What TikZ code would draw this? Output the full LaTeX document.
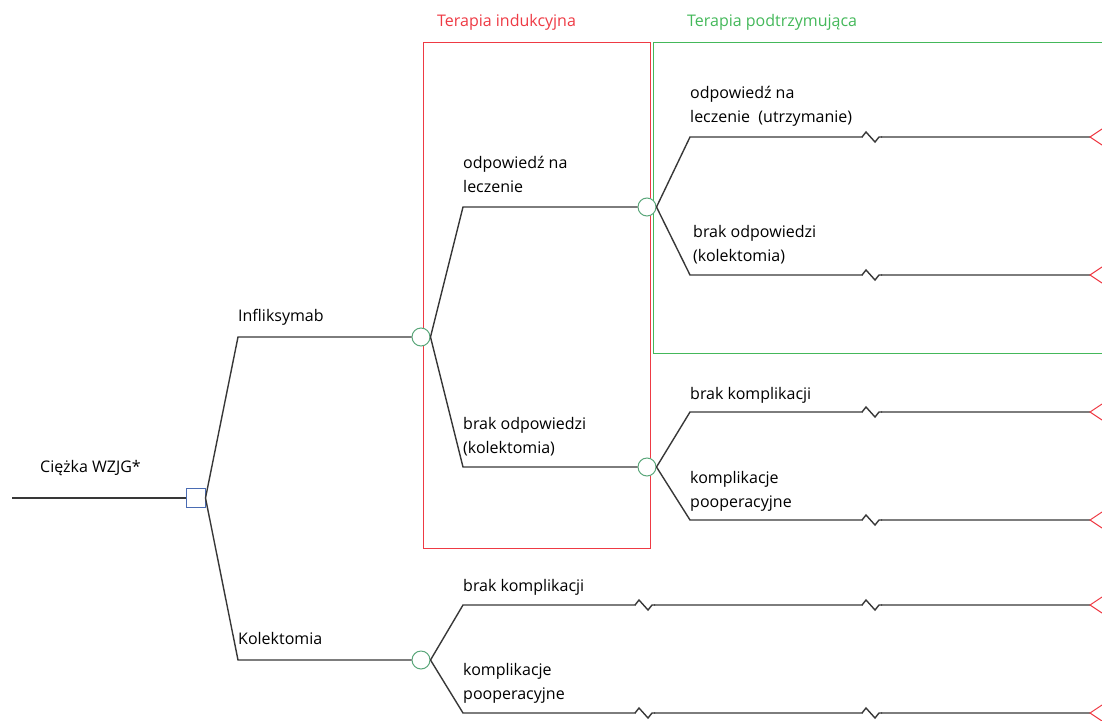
\documentclass[tikz,border=0pt]{standalone}
\usepackage{fontspec}
\setmainfont{Open Sans}
\usetikzlibrary{positioning}

\definecolor{linegray}{HTML}{383838}
\definecolor{decblue}{HTML}{4A6CB3}
\definecolor{chgreen}{HTML}{5AA77A}
\definecolor{indred}{HTML}{EE3A44}
\definecolor{podgreen}{HTML}{44B85A}

\begin{document}
\begin{tikzpicture}[x=1pt, y=-1pt,
    branch/.style={draw=linegray, line width=1.4pt},
    decision/.style={rectangle, draw=decblue, fill=white, line width=1pt, minimum size=19pt, inner sep=0pt},
    chance/.style={circle, draw=chgreen, fill=white, line width=1pt, minimum size=18pt, inner sep=0pt},
    lbl/.style={anchor=base west, align=left, inner sep=0pt, font=\fontsize{16}{24}\selectfont},
    term/.style={draw=indred, line width=1pt},
    pics/zig/.style={code={
        \draw[white, line width=4pt] (-9,0) -- (9,0);
        \draw[branch] (-10,0) -- (-6,-5) -- (3,5) -- (7,0) -- (10,0);}}]
  \useasboundingbox (0,0) rectangle (1102,720);

  % The phases
  \draw[indred, line width=1pt] (423,42) rectangle (650,548);
  \draw[podgreen, line width=1pt] (1103,42) -- (653,42) -- (653,353) -- (1103,353);
  \node[lbl, text=indred] (indlbl) at (437,26) {Terapia indukcyjna};
  \node[lbl, text=podgreen] (podlbl) at (687,27) {Terapia podtrzymująca};

  % Decision
  \coordinate (root) at (12,498);
  \node[decision] (dec) at (195.5,498) {};
  \draw[branch] (root) -- (dec);
  \node[lbl] (rootlbl) at (40,472) {Ciężka WZJG*};

  % Infliksymab
  \coordinate (inf) at (238,337);
  \node[chance] (cinf) at (421,337) {};
  \draw[branch] (dec.east) -- (inf) -- (cinf);
  \node[lbl] (inflbl) at (238,321) {Infliksymab};

  % Kolektomia
  \coordinate (kol) at (238,660);
  \node[chance] (ckol) at (421,660) {};
  \draw[branch] (dec.east) -- (kol) -- (ckol);
  \node[lbl] (kollbl) at (238,644) {Kolektomia};

  % Induction: response
  \coordinate (odp) at (463,207);
  \node[chance] (codp) at (647,207) {};
  \draw[branch] (cinf.east) -- (odp) -- (codp);
  \node[lbl] (odplbl) at (463,192) {odpowiedź na\\leczenie};

  % Induction: no response
  \coordinate (brak) at (463,467);
  \node[chance] (cbrak) at (647,467) {};
  \draw[branch] (cinf.east) -- (brak) -- (cbrak);
  \node[lbl] (braklbl) at (463,453) {brak odpowiedzi\\(kolektomia)};

  % Maintenance
  \coordinate (utr) at (690,137);
  \coordinate (utrend) at (1090,137);
  \draw[branch] (codp.east) -- (utr) -- (utrend);
  \pic at (872,137) {zig};
  \node[lbl] (utrlbl) at (690,122) {odpowiedź na\\leczenie\ \ (utrzymanie)};

  \coordinate (ukol) at (690,275);
  \coordinate (ukolend) at (1090,275);
  \draw[branch] (codp.east) -- (ukol) -- (ukolend);
  \pic at (872,275) {zig};
  \node[lbl] (ukollbl) at (693,261) {brak odpowiedzi\\(kolektomia)};

  % Colectomy after induction
  \coordinate (bk1) at (690,412);
  \coordinate (bk1end) at (1090,412);
  \draw[branch] (cbrak.east) -- (bk1) -- (bk1end);
  \pic at (872,412) {zig};
  \node[lbl] (bk1lbl) at (690,399) {brak komplikacji};

  \coordinate (kp1) at (690,520);
  \coordinate (kp1end) at (1090,520);
  \draw[branch] (cbrak.east) -- (kp1) -- (kp1end);
  \pic at (872,520) {zig};
  \node[lbl] (kp1lbl) at (690,507) {komplikacje\\pooperacyjne};

  % Primary colectomy
  \coordinate (bk2) at (463,605);
  \coordinate (bk2end) at (1090,605);
  \draw[branch] (ckol.east) -- (bk2) -- (bk2end);
  \pic at (645,605) {zig};
  \pic at (872,605) {zig};
  \node[lbl] (bk2lbl) at (463,591) {brak komplikacji};

  \coordinate (kp2) at (463,713);
  \coordinate (kp2end) at (1090,713);
  \draw[branch] (ckol.east) -- (kp2) -- (kp2end);
  \pic at (645,713) {zig};
  \pic at (872,713) {zig};
  \node[lbl] (kp2lbl) at (463,699) {komplikacje\\pooperacyjne};

  % Terminal nodes
  \foreach \t in {utrend, ukolend, bk1end, kp1end, bk2end, kp2end}
    \draw[term] ([shift={(12,-8)}]\t) -- (\t) -- ([shift={(12,8)}]\t);
\end{tikzpicture}
\end{document}
